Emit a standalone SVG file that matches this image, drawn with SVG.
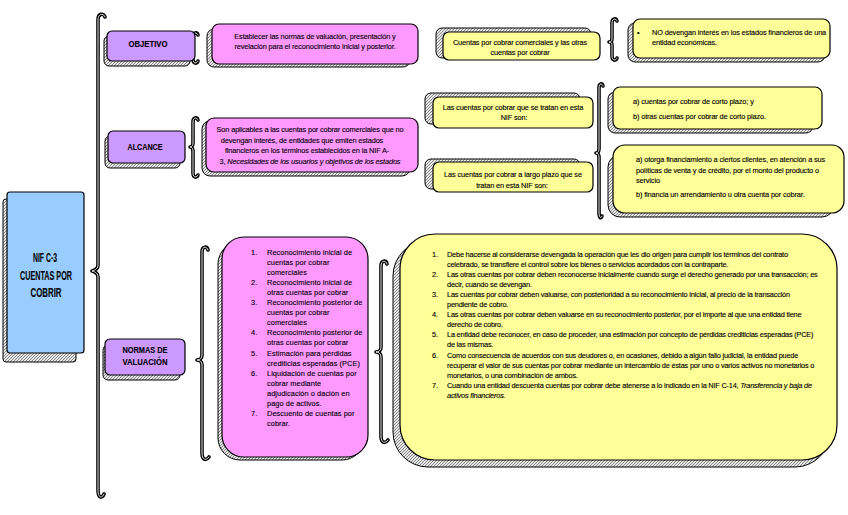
<svg xmlns="http://www.w3.org/2000/svg" width="848" height="515" viewBox="0 0 848 515">
<defs>
<pattern id="hatch" width="3" height="3" patternUnits="userSpaceOnUse">
<rect width="3" height="3" fill="#e8e8e8"/>
<path d="M0,3 L3,0 M-1,1 L1,-1 M2,4 L4,2" stroke="#777" stroke-width="0.9"/>
</pattern>
<style>
.sh{fill:url(#hatch);stroke:#000;stroke-width:1}
.fr{stroke:#000;stroke-width:1.2}
.blue{fill:#99ccff}
.pur{fill:#cc99ff}
.pink{fill:#ff99ff}
.yel{fill:#ffff99}
.br{fill:none;stroke:#000;stroke-width:3.6;stroke-linecap:round;stroke-linejoin:round}
.brw{fill:none;stroke:#fff;stroke-width:0.9;stroke-linecap:round}
text{font-family:"Liberation Sans Narrow","Liberation Sans",Arial,sans-serif;fill:#000;stroke:#000;stroke-width:0.12}
.t{font-size:7.4px;letter-spacing:-0.15px}
.tl{font-size:7.4px;letter-spacing:-0.22px}
.tp{font-size:7.4px;letter-spacing:0.05px}
.c{text-anchor:middle}
.h{font-size:9px;font-weight:bold}
.big{font-size:13px;font-weight:bold}
.i{font-style:italic}
</style>
</defs>

<g id="connectors">
<path id="brace-main" class="br" d="M105,17 C104,13 98,13 98,20 L98,265 C98,268 96,270 92,271 C96,272 98,274 98,277 L98,490 C98,498 102,499 104,494"/>
<path class="brw" d="M105,17 C104,13 98,13 98,20 L98,265 C98,268 96,270 92,271 C96,272 98,274 98,277 L98,490 C98,498 102,499 104,494"/>
<path id="brace-objetivo" class="br" d="M198,35 C197,32 193,32 193,37 L193,45 C193,47 192,48 190,48 C192,48 193,49 193,51 L193,59 C193,64 197,64 198,61"/>
<path class="brw" d="M198,35 C197,32 193,32 193,37 L193,45 C193,47 192,48 190,48 C192,48 193,49 193,51 L193,59 C193,64 197,64 198,61"/>
<path id="brace-alcance" class="br" d="M198,120 C197,117 193,117 193,122 L193,143 C193,145 192,147 190,147 C192,147 193,149 193,151 L193,173 C193,178 197,178 198,175"/>
<path class="brw" d="M198,120 C197,117 193,117 193,122 L193,143 C193,145 192,147 190,147 C192,147 193,149 193,151 L193,173 C193,178 197,178 198,175"/>
<path id="brace-devengan" class="br" d="M617,21 C616,18 612,18 612,23 L612,39 C612,41 611,42 609,42 C611,42 612,43 612,45 L612,56 C612,61 616,61 617,58"/>
<path class="brw" d="M617,21 C616,18 612,18 612,23 L612,39 C612,41 611,42 609,42 C611,42 612,43 612,45 L612,56 C612,61 616,61 617,58"/>
<path id="brace-tipos" class="br" d="M603,86 C602,83 599,83 599,88 L599,149 C599,151 598,153 596,153 C598,153 599,155 599,157 L599,212 C599,218 601,219 602,216"/>
<path class="brw" d="M603,86 C602,83 599,83 599,88 L599,149 C599,151 598,153 596,153 C598,153 599,155 599,157 L599,212 C599,218 601,219 602,216"/>
<path id="brace-normas" class="br" d="M208,250 C207,246 202,246 202,252 L202,355 C202,358 200,360 197,360 C200,360 202,362 202,365 L202,453 C202,460 206,461 209,457"/>
<path class="brw" d="M208,250 C207,246 202,246 202,252 L202,355 C202,358 200,360 197,360 C200,360 202,362 202,365 L202,453 C202,460 206,461 209,457"/>
<path id="brace-lista" class="br" d="M387,264 C386,260 381,260 381,266 L381,347 C381,350 379,352 376,352 C379,352 381,354 381,357 L381,436 C381,443 385,444 388,440"/>
<path class="brw" d="M387,264 C386,260 381,260 381,266 L381,347 C381,350 379,352 376,352 C379,352 381,354 381,357 L381,436 C381,443 385,444 388,440"/>
</g>

<g id="nif">
<rect class="sh" x="3" y="199" width="73" height="163" rx="3"/>
<rect class="fr blue" x="7" y="192" width="77" height="161" rx="3"/>
<text class="big c" x="45" y="262" textLength="24" lengthAdjust="spacingAndGlyphs">NIF C-3</text>
<text class="big c" x="46" y="280" textLength="52" lengthAdjust="spacingAndGlyphs">CUENTAS POR</text>
<text class="big c" x="46" y="297" textLength="31" lengthAdjust="spacingAndGlyphs">COBRIR</text>
</g>

<g id="objetivo">
<rect class="sh" x="104" y="36" width="86" height="30" rx="5"/>
<rect class="fr pur" x="107" y="31" width="88" height="30" rx="5"/>
<text class="h c" x="148" y="47" textLength="39" lengthAdjust="spacingAndGlyphs">OBJETIVO</text>
</g>

<g id="objetivo-texto">
<rect class="sh" x="207" y="29" width="203" height="38" rx="7"/>
<rect class="fr pink" x="212" y="24" width="206" height="40" rx="7"/>
<text class="t c" x="315" y="38.5">Establecer las normas de valuación, presentación y</text>
<text class="t c" x="315" y="49">revelación para el reconocimiento inicial y posterior.</text>
</g>

<g id="alcance">
<rect class="sh" x="105" y="136" width="75" height="32" rx="5"/>
<rect class="fr pur" x="108" y="131" width="77" height="32" rx="5"/>
<text class="h c" x="145" y="150" textLength="35" lengthAdjust="spacingAndGlyphs">ALCANCE</text>
</g>

<g id="alcance-texto">
<rect class="sh" x="202" y="121" width="208" height="55" rx="8"/>
<rect class="fr pink" x="206" y="118" width="212" height="54" rx="8"/>
<text class="t c" x="310" y="131.5">Son aplicables a las cuentas por cobrar comerciales que no</text>
<text class="t c" x="302" y="142.5">devengan interés, de entidades que emiten estados</text>
<text class="t c" x="307" y="153">financieros en los términos establecidos en la NIF A-</text>
<text class="t c" x="310" y="163.5">3, <tspan class="i">Necesidades de los usuarios y objetivos de los estados</tspan></text>
</g>

<g id="normas">
<rect class="sh" x="103" y="345" width="77" height="35" rx="5"/>
<rect class="fr pur" x="105" y="339" width="80" height="36" rx="5"/>
<text class="h c" x="145" y="353" textLength="45" lengthAdjust="spacingAndGlyphs">NORMAS DE</text>
<text class="h c" x="145" y="365" textLength="45" lengthAdjust="spacingAndGlyphs">VALUACIÓN</text>
</g>

<g id="cuentas-comerciales">
<rect class="sh" x="436" y="28" width="155" height="30" rx="6"/>
<rect class="fr yel" x="443" y="32" width="157" height="28" rx="6"/>
<text class="t c" x="520" y="44.5">Cuentas por cobrar comerciales y las otras</text>
<text class="t c" x="520" y="54.5">cuentas por cobrar</text>
</g>

<g id="no-devengan">
<rect class="sh" x="628" y="23" width="197" height="39" rx="7"/>
<rect class="fr yel" x="633" y="19" width="197" height="39" rx="7"/>
<text class="t" x="637" y="34.5">•</text>
<text class="t" x="652" y="34.5">NO devengan interés en los estados financieros de una</text>
<text class="t" x="652" y="44.5">entidad económicas.</text>
</g>

<g id="tratan">
<rect class="sh" x="425" y="93" width="155" height="31" rx="6"/>
<rect class="fr yel" x="433" y="97" width="160" height="31" rx="6"/>
<text class="t c" x="513" y="109.5">Las cuentas por cobrar que se tratan en esta</text>
<text class="t c" x="514" y="120">NIF son:</text>
</g>

<g id="corto-plazo">
<rect class="sh" x="608" y="92" width="205" height="41" rx="7"/>
<rect class="fr yel" x="613" y="87" width="209" height="42" rx="7"/>
<text class="t" x="633" y="103.5">a) cuentas por cobrar de corto plazo; y</text>
<text class="t" x="633" y="119">b) otras cuentas por cobrar de corto plazo.</text>
</g>

<g id="largo-plazo">
<rect class="sh" x="425" y="159" width="155" height="30" rx="6"/>
<rect class="fr yel" x="433" y="162" width="160" height="30" rx="6"/>
<text class="t c" x="513" y="176.5">Las cuentas por cobrar a largo plazo que se</text>
<text class="t c" x="512" y="187.5">tratan en esta NIF son:</text>
</g>

<g id="otorga">
<rect class="sh" x="608" y="155" width="226" height="62" rx="12"/>
<rect class="fr yel" x="613" y="145" width="231" height="68" rx="12"/>
<text class="t" x="636" y="162">a) otorga financiamiento a ciertos clientes, en atención a sus</text>
<text class="t" x="636" y="172.5">políticas de venta y de crédito, por el monto del producto o</text>
<text class="t" x="636" y="183">servicio</text>
<text class="t" x="636" y="197">b) financia un arrendamiento u otra cuenta por cobrar.</text>
</g>

<g id="temas">
<rect class="sh" x="218" y="242" width="146" height="218" rx="22"/>
<rect class="fr pink" x="222" y="237" width="146" height="220" rx="22"/>
<g class="tp">
<text x="251" y="254.5">1.</text><text x="267" y="254.5">Reconocimiento inicial de</text>
<text x="267" y="264.6">cuentas por cobrar</text>
<text x="267" y="274.7">comerciales</text>
<text x="251" y="284.8">2.</text><text x="267" y="284.8">Reconocimiento inicial de</text>
<text x="267" y="294.9">otras cuentas por cobrar</text>
<text x="251" y="305">3.</text><text x="267" y="305">Reconocimiento posterior de</text>
<text x="267" y="315.1">cuentas por cobrar</text>
<text x="267" y="325.2">comerciales</text>
<text x="251" y="335.3">4.</text><text x="267" y="335.3">Reconocimiento posterior de</text>
<text x="267" y="345.4">otras cuentas por cobrar</text>
<text x="251" y="355.5">5.</text><text x="267" y="355.5">Estimación para pérdidas</text>
<text x="267" y="365.6">crediticias esperadas (PCE)</text>
<text x="251" y="375.7">6.</text><text x="267" y="375.7">Liquidación de cuentas por</text>
<text x="267" y="385.8">cobrar mediante</text>
<text x="267" y="395.9">adjudicación o dación en</text>
<text x="267" y="406">pago de activos.</text>
<text x="251" y="416.1">7.</text><text x="267" y="416.1">Descuento de cuentas por</text>
<text x="267" y="426.2">cobrar.</text>
</g>
</g>

<g id="criterios">
<rect class="sh" x="393" y="241" width="437" height="226" rx="35"/>
<rect class="fr yel" x="400" y="234" width="437" height="226" rx="35"/>
<g class="tl">
<text x="432" y="256.5">1.</text><text x="447" y="256.5">Debe hacerse al considerarse devengada la operación que les dio origen para cumplir los términos del contrato</text>
<text x="447" y="266.6">celebrado, se transfiere el control sobre los bienes  o servicios acordados con la contraparte.</text>
<text x="432" y="276.7">2.</text><text x="447" y="276.7">Las otras cuentas por cobrar deben reconocerse inicialmente cuando  surge el derecho generado por una transacción; es</text>
<text x="447" y="286.8">decir, cuando se devengan.</text>
<text x="432" y="296.9">3.</text><text x="447" y="296.9">Las cuentas por cobrar deben valuarse, con posterioridad a su reconocimiento inicial, al precio de la transacción</text>
<text x="447" y="307">pendiente de cobro.</text>
<text x="432" y="317.1">4.</text><text x="447" y="317.1">Las otras cuentas por cobrar deben valuarse en su reconocimiento posterior, por el importe al que una entidad tiene</text>
<text x="447" y="327.2">derecho de cobro.</text>
<text x="432" y="337.3">5.</text><text x="447" y="337.3">La entidad debe reconocer, en caso de proceder, una estimación por concepto de pérdidas crediticias esperadas (PCE)</text>
<text x="447" y="347.4">de las mismas.</text>
<text x="432" y="357.5">6.</text><text x="447" y="357.5">Como consecuencia de acuerdos con sus deudores o, en ocasiones, debido a algún fallo judicial, la entidad puede</text>
<text x="447" y="367.6">recuperar el valor de sus cuentas por cobrar mediante un intercambio de éstas por uno o varios activos no monetarios o</text>
<text x="447" y="377.7">monetarios, o una combinación de ambos.</text>
<text x="432" y="387.8">7.</text><text x="447" y="387.8">Cuando una entidad descuenta cuentas por cobrar debe atenerse a lo indicado en la NIF C-14, <tspan class="i">Transferencia y baja de</tspan></text>
<text x="447" y="397.9" class="i">activos financieros.</text>
</g>
</g>
</svg>
